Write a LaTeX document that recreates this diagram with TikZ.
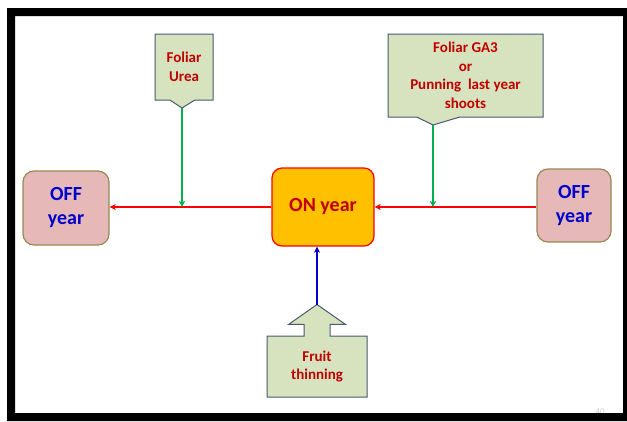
\documentclass[tikz,border=0pt]{standalone}
\usepackage{fontspec}
\setmainfont{Carlito}
\usetikzlibrary{shapes.callouts,shapes.arrows,arrows.meta}

\definecolor{notefill}{RGB}{215,227,191}
\definecolor{notedraw}{RGB}{74,88,112}
\definecolor{darkred}{RGB}{192,0,0}
\definecolor{offfill}{RGB}{230,185,184}
\definecolor{offdraw}{RGB}{148,138,84}
\definecolor{onfill}{RGB}{255,192,0}
\definecolor{leafgreen}{RGB}{0,176,80}
\definecolor{offblue}{RGB}{0,0,204}

\tikzset{
  offbox/.style={draw=offdraw,fill=offfill,line width=1.2pt,rounded corners=11pt,
    minimum width=86pt,minimum height=74pt,inner sep=0pt,align=center,
    text=offblue,font=\fontsize{20}{24}\selectfont\bfseries},
  onbox/.style={draw=red,fill=onfill,line width=1.2pt,rounded corners=10pt,
    minimum width=102pt,minimum height=78pt,inner sep=0pt,
    text=darkred,font=\fontsize{20}{24}\selectfont\bfseries},
  notebox/.style={rectangle callout,draw=notedraw,fill=notefill,line width=1pt,
    inner sep=0pt,align=center,text=darkred,font=\fontsize{15}{18.5}\selectfont\bfseries},
  redarrow/.style={draw=red,line width=1.2pt,-{Stealth[length=6pt,width=6pt,inset=1.5pt]}},
  greenarrow/.style={draw=leafgreen,line width=1.2pt,-{Stealth[length=6pt,width=6pt,inset=1.5pt]}},
  bluearrow/.style={draw=offblue,line width=1.2pt,-{Stealth[length=6pt,width=6pt,inset=1.5pt]}}
}

\begin{document}
\begin{tikzpicture}[x=1pt,y=-1pt]
\useasboundingbox (0,0) rectangle (627,421);

% main boxes
\node[offbox] (offL) at (66,208) {OFF\\year};
\node[onbox] (on) at (323,207) {ON year};
\node[offbox,minimum width=74pt,minimum height=73pt] (offR) at (574,205.5) {OFF\\year};

\draw[redarrow] (offR.west |- on.east) -- (on.east);
\draw[redarrow] (on.west) -- (on.west -| offL.east);

% callouts
\coordinate (ureatip) at (182,108);
\node[notebox,minimum width=58pt,minimum height=66pt,callout pointer width=25pt,
  callout absolute pointer={(ureatip)}] (urea) at (184,67) {Foliar\\Urea};
\draw[greenarrow] (ureatip) -- (ureatip |- on.west);

\coordinate (ga3tip) at (433,125);
\node[notebox,minimum width=155pt,minimum height=83pt,callout pointer width=43pt,
  callout absolute pointer={(ga3tip)}] (ga3) at (465.5,75.5) {Foliar GA3\\or\\Punning\ \ last year\\shoots};
\draw[greenarrow] (ga3tip) -- (ga3tip |- on.east);

% thinning
\coordinate (fruittip) at (317,305);
\node[arrow box,draw=notedraw,fill=notefill,line width=1pt,inner sep=0pt,
  minimum width=100pt,minimum height=61pt,arrow box arrows={north:31pt},
  arrow box shaft width=26pt,arrow box head extend=15.5pt,arrow box tip angle=110,
  align=center,text=darkred,font=\fontsize{15}{18}\selectfont\bfseries] (fruit) at (317,366.5) {Fruit\\thinning};
\draw[bluearrow] (fruittip) -- (fruittip |- on.south);

\node[text=black!20,font=\fontsize{9}{9}\selectfont] (pagenum) at (600,412) {40};

% frame
\fill[black,even odd rule] (7,8) rectangle (627,421) (15,16) rectangle (623,413);
\end{tikzpicture}
\end{document}
